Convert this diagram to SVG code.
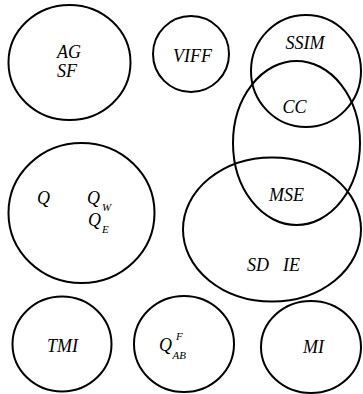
<svg xmlns="http://www.w3.org/2000/svg" width="363" height="394" viewBox="0 0 363 394">
  <style>
    .set { fill: none; stroke: #000; stroke-width: 2; }
    .c { text-anchor: middle; }
  </style>
  <rect width="363" height="394" fill="#fff"/>

  <g font-family="Liberation Serif, Times New Roman, Times, serif" font-style="italic" fill="#000" font-size="18">
    <g id="ag-sf">
      <ellipse class="set" cx="69.5" cy="62.5" rx="61" ry="57.5"/>
      <text x="57" y="58">AG</text>
      <text x="57" y="77">SF</text>
    </g>

    <g id="viff">
      <ellipse class="set" cx="191" cy="54" rx="38" ry="38"/>
      <text class="c" x="192.5" y="61.5">VIFF</text>
    </g>

    <g id="ssim">
      <ellipse class="set" cx="306" cy="71" rx="55" ry="56"/>
      <text class="c" x="305" y="49">SSIM</text>
    </g>

    <g id="cc-mse">
      <ellipse class="set" cx="296.5" cy="143" rx="63.5" ry="82"/>
      <text class="c" x="294.5" y="113">CC</text>
      <text class="c" x="286.5" y="201">MSE</text>
    </g>

    <g id="sd-ie">
      <ellipse class="set" cx="272" cy="229.5" rx="89" ry="72"/>
      <text x="247" y="271">SD</text>
      <text x="283" y="271">IE</text>
    </g>

    <g id="q">
      <ellipse class="set" cx="81.5" cy="213" rx="73" ry="70"/>
      <text x="37" y="204">Q</text>
      <text x="87" y="204">Q</text>
      <text x="102" y="211" font-size="11">W</text>
      <text x="88" y="226">Q</text>
      <text x="102" y="233" font-size="11">E</text>
    </g>

    <g id="tmi">
      <ellipse class="set" cx="62" cy="344" rx="49.5" ry="47.5"/>
      <text class="c" x="62.5" y="352">TMI</text>
    </g>

    <g id="qabf">
      <ellipse class="set" cx="184" cy="344" rx="50" ry="48"/>
      <text x="159" y="351">Q</text>
      <text x="176" y="340" font-size="11">F</text>
      <text x="172.5" y="359" font-size="11">AB</text>
    </g>

    <g id="mi">
      <ellipse class="set" cx="311" cy="347" rx="50" ry="46"/>
      <text class="c" x="313.5" y="353">MI</text>
    </g>
  </g>

  <g id="connectors"/>
</svg>
